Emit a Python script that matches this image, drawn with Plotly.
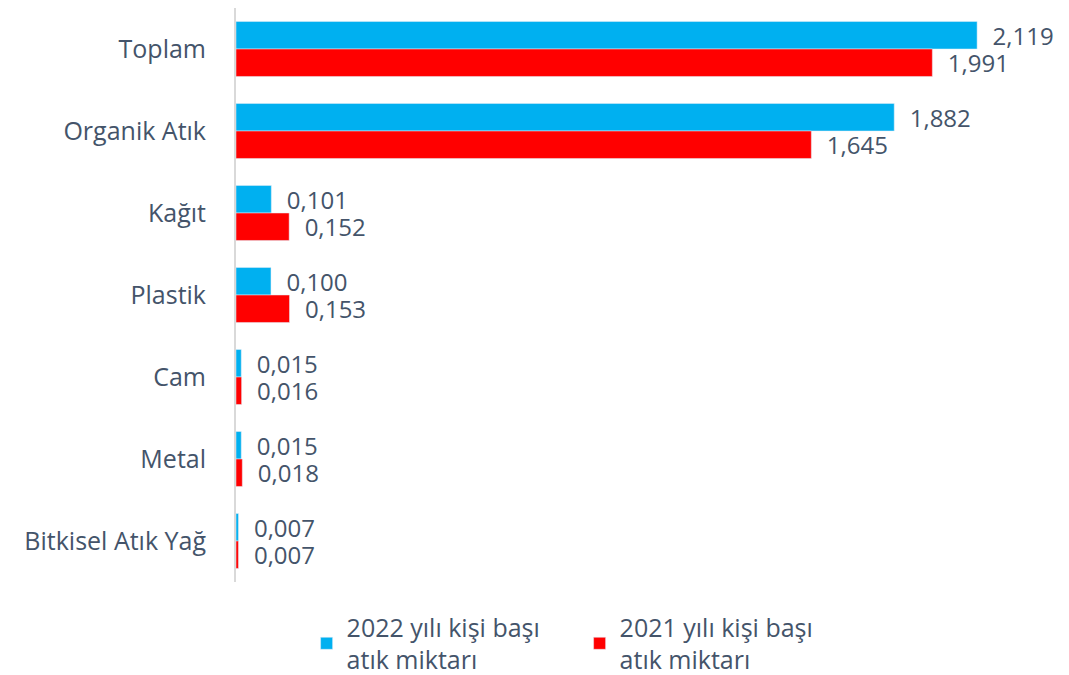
import plotly.graph_objects as go

categories = ["Toplam", "Organik Atık", "Kağıt", "Plastik", "Cam", "Metal", "Bitkisel Atık Yağ"]
values_2022 = [2.119, 1.882, 0.101, 0.100, 0.015, 0.015, 0.007]
values_2021 = [1.991, 1.645, 0.152, 0.153, 0.016, 0.018, 0.007]
name_2022 = "2022 yılı kişi başı<br>atık miktarı"
name_2021 = "2021 yılı kişi başı<br>atık miktarı"

txt_color = "#44546A"
pad = "\u00a0\u00a0"

fig = go.Figure()
fig.add_trace(go.Bar(
    y=categories, x=values_2022, name=name_2022, orientation="h",
    marker_color="#00B0F0",
    text=[pad + f"{v:.3f}".replace(".", ",") for v in values_2022],
    textposition="outside", cliponaxis=False, constraintext="none",
    textfont=dict(size=24, color=txt_color),
))
fig.add_trace(go.Bar(
    y=categories, x=values_2021, name=name_2021, orientation="h",
    marker_color="#FF0000",
    text=[pad + f"{v:.3f}".replace(".", ",") for v in values_2021],
    textposition="outside", cliponaxis=False, constraintext="none",
    textfont=dict(size=24, color=txt_color),
))

# page body has an 8px margin, so the figure is a bit smaller than the window
fig.update_layout(
    barmode="group", bargap=0.33, bargroupgap=0,
    width=1061, height=667,
    margin=dict(l=228, r=9, t=0, b=93),
    plot_bgcolor="white", paper_bgcolor="white",
    font=dict(family="Open Sans", size=25, color=txt_color),
    showlegend=True,
    legend=dict(orientation="h", x=0.417, xanchor="center",
                y=0.106, yref="container", yanchor="top",
                entrywidth=228, font=dict(size=25, color=txt_color)),
)
fig.update_xaxes(range=[0, 2.356], visible=False)
fig.update_yaxes(autorange="reversed", showline=True, linecolor="#D9D9D9", linewidth=2,
                 showgrid=False, ticks="", ticklabelstandoff=23)

fig.write_html("out.html")
